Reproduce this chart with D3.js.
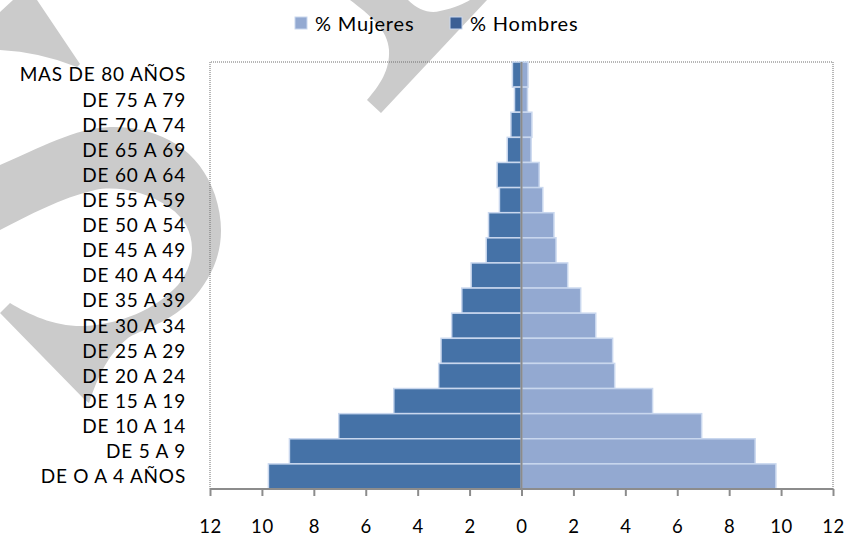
<!DOCTYPE html>
<html>
<head>
<meta charset="utf-8">
<script src="https://cdn.jsdelivr.net/npm/d3@7"></script>
<style>
  body { margin: 0; background: #fff; }
  text { font-family: Lato, "Open Sans", sans-serif; fill: #000; }
</style>
</head>
<body>
<script>
// age groups, top to bottom
const categories = [
  "MAS DE 80 AÑOS", "DE 75 A 79", "DE 70 A 74", "DE 65 A 69", "DE 60 A 64",
  "DE 55 A 59", "DE 50 A 54", "DE 45 A 49", "DE 40 A 44", "DE 35 A 39",
  "DE 30 A 34", "DE 25 A 29", "DE 20 A 24", "DE 15 A 19", "DE 10 A 14",
  "DE 5 A 9", "DE O A 4 AÑOS"
];
const hombres = [0.35, 0.27, 0.41, 0.55, 0.94, 0.85, 1.27, 1.36, 1.94, 2.30, 2.69, 3.10, 3.19, 4.92, 7.04, 8.94, 9.75];
const mujeres = [0.25, 0.23, 0.40, 0.37, 0.68, 0.82, 1.25, 1.33, 1.78, 2.28, 2.86, 3.51, 3.59, 5.05, 6.94, 9.00, 9.80];
const tickValues = [-12, -10, -8, -6, -4, -2, 0, 2, 4, 6, 8, 10, 12];

const width = 850, height = 537;
const plot = { left: 210, right: 833, top: 62, bottom: 489 };

const colHombres = "#4572a7";
const colMujeres = "#93a9d1";
const barStroke = "#c9d7ee";
const axisGrey = "#8c8c8c";

const svg = d3.select("body").append("svg")
  .attr("width", width)
  .attr("height", height);

// watermark swooshes behind everything
const wm = svg.append("g").attr("fill", "#cbcbcb");
wm.append("path").attr("d",
  "M13,0 L37,0 L80,64 L77,67 Q40,52 0,50 L0,12 Z");
wm.append("path").attr("d",
  "M0,165 C40,148 75,128 110,127 C160,126 200,150 215,195 C228,235 220,270 190,302 " +
  "C165,325 140,330 128,338 C110,352 98,375 89,403 L84,399 L0,313 L10,303 " +
  "C30,315 55,327 85,326 C120,324 155,310 178,285 C200,258 195,225 170,208 " +
  "C145,190 115,186 95,190 C60,198 30,215 0,230 Z");
wm.append("path").attr("d",
  "M350,0 L408,0 C418,10 430,14 440,11 C455,8 465,3 470,0 L487,0 L381,113 L367,100 " +
  "C380,85 390,70 389,50 C388,30 370,15 350,0 Z");

const x = d3.scaleLinear().domain([-12, 12]).range([plot.left, plot.right]);
const y = d3.scaleBand().domain(categories).range([plot.top, plot.bottom]).padding(0);

// plot area border (dotted)
svg.append("path")
  .attr("fill", "none")
  .attr("stroke", "#6f6f6f")
  .attr("stroke-width", 1)
  .attr("stroke-dasharray", "1,1")
  .attr("d", `M${plot.left},${plot.bottom} L${plot.left},${plot.top} L${plot.right},${plot.top} L${plot.right},${plot.bottom}`);

const rows = categories.map((c, i) => ({ cat: c, h: hombres[i], m: mujeres[i] }));

svg.append("g").selectAll("rect")
  .data(rows)
  .join("rect")
  .attr("x", d => x(-d.h))
  .attr("y", d => y(d.cat))
  .attr("width", d => x(0) - x(-d.h))
  .attr("height", y.bandwidth())
  .attr("fill", colHombres)
  .attr("stroke", barStroke)
  .attr("stroke-width", 1.5);

svg.append("g").selectAll("rect")
  .data(rows)
  .join("rect")
  .attr("x", x(0))
  .attr("y", d => y(d.cat))
  .attr("width", d => x(d.m) - x(0))
  .attr("height", y.bandwidth())
  .attr("fill", colMujeres)
  .attr("stroke", barStroke)
  .attr("stroke-width", 1.5);

// centre line
svg.append("line")
  .attr("x1", x(0)).attr("x2", x(0))
  .attr("y1", plot.top).attr("y2", plot.bottom)
  .attr("stroke", axisGrey)
  .attr("stroke-width", 2);

// bottom axis
const xAxis = svg.append("g")
  .attr("transform", `translate(0,${plot.bottom})`)
  .call(d3.axisBottom(x)
    .tickValues(tickValues)
    .tickFormat(d => Math.abs(d))
    .tickSize(7)
    .tickPadding(24));
xAxis.select(".domain")
  .attr("stroke", axisGrey)
  .attr("stroke-width", 2)
  .attr("d", `M${plot.left},0H${plot.right}`);
xAxis.selectAll(".tick line").attr("stroke", axisGrey).attr("stroke-width", 2);
xAxis.selectAll(".tick text")
  .attr("font-family", "Lato, sans-serif")
  .attr("font-size", 18.5)
  .attr("letter-spacing", 0.6)
  .attr("fill", "#000");

// category labels
svg.append("g").selectAll("text")
  .data(categories)
  .join("text")
  .attr("x", 186)
  .attr("y", d => y(d) + y.bandwidth() / 2)
  .attr("dy", "0.36em")
  .attr("text-anchor", "end")
  .attr("font-size", 19)
  .attr("letter-spacing", 0.8)
  .text(d => d);

// legend
const legendItems = [
  { label: "% Mujeres", color: colMujeres, x: 295 },
  { label: "% Hombres", color: "#3b5f95", x: 450 }
];
const lg = svg.append("g").selectAll("g")
  .data(legendItems)
  .join("g")
  .attr("transform", d => `translate(${d.x},17)`);
lg.append("rect")
  .attr("width", 12).attr("height", 12)
  .attr("fill", d => d.color)
  .attr("stroke", "#c9d7ee")
  .attr("stroke-width", 1);
lg.append("text")
  .attr("x", 20)
  .attr("y", 13.5)
  .attr("font-size", 20)
  .attr("letter-spacing", 0.8)
  .text(d => d.label);
</script>
</body>
</html>
